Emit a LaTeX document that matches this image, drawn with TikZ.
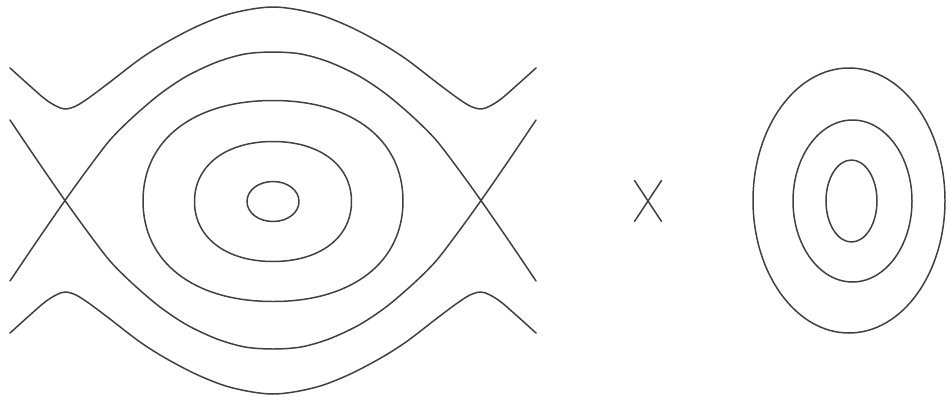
\documentclass[tikz,border=0pt]{standalone}
\begin{document}
\newcommand\supell[5]{%
 \draw[curve] (#1+#3,#2) .. controls (#1+#3,#2-#5*#4) and (#1+#5*#3,#2-#4) .. (#1,#2-#4)
  .. controls (#1-#5*#3,#2-#4) and (#1-#3,#2-#5*#4) .. (#1-#3,#2)
  .. controls (#1-#3,#2+#5*#4) and (#1-#5*#3,#2+#4) .. (#1,#2+#4)
  .. controls (#1+#5*#3,#2+#4) and (#1+#3,#2+#5*#4) .. cycle;}
\begin{tikzpicture}[x=0.02cm,y=-0.02cm,
  curve/.style={line width=0.85pt,draw=black!75,line join=round,line cap=round}]
\useasboundingbox (0,0) rectangle (947,396);
% outer rotation curves (top and bottom)
\draw[curve] plot[smooth,tension=0.55] coordinates {(10,68) (30,86) (45,99) (56,106) (65,109) (76,106) (90,97) (110,82) (140,59) (167,42) (200,25) (233,13) (273,7) (313,13) (346,25) (379,42) (406,59) (436,82) (456,97) (470,106) (481,109) (490,106) (501,99) (516,86) (536,68)};
\draw[curve] plot[smooth,tension=0.55] coordinates {(10,333) (30,315) (45,302) (56,295) (65,292) (76,295) (90,304) (110,319) (140,342) (167,359) (200,376) (233,388) (273,394) (313,388) (346,376) (379,359) (406,342) (436,319) (456,304) (470,295) (481,292) (490,295) (501,302) (516,315) (536,333)};
% separatrices
\draw[curve] plot[smooth,tension=0.5] coordinates {(10,281) (37,241) (65,200.5) (87,170) (110,140) (133,117) (160,94) (187,76) (217,62) (245,54) (273,52) (301,54) (329,62) (359,76) (386,94) (413,117) (436,140) (459,170) (481,200.5) (509,241) (536,281)};
\draw[curve] plot[smooth,tension=0.5] coordinates {(10,120) (37,160) (65,200.5) (87,231) (110,261) (133,284) (160,307) (187,325) (217,339) (245,347) (273,349) (301,347) (329,339) (359,325) (386,307) (413,284) (436,261) (459,231) (481,200.5) (509,160) (536,120)};
% librations
\supell{273}{201}{130}{100.5}{0.61}
\supell{273}{201.5}{78.5}{60}{0.6}
\supell{273}{201.5}{26}{20}{0.56}
% product sign
\coordinate (xa) at (634.5,180.5);
\coordinate (xb) at (661.5,221.5);
\coordinate (xc) at (661.5,180.5);
\coordinate (xd) at (634.5,221.5);
\draw[curve] (xa) -- (xb);
\draw[curve] (xc) -- (xd);
% harmonic oscillator
\draw[curve] (849,200.5) ellipse [x radius=96,y radius=132.5];
\draw[curve] (852.5,201) ellipse [x radius=59.5,y radius=81];
\draw[curve] (851.5,201) ellipse [x radius=25.5,y radius=41];
\end{tikzpicture}
\end{document}
